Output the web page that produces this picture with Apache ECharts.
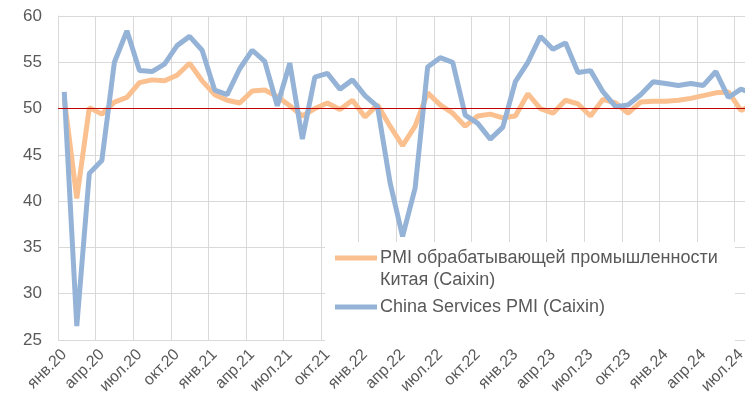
<!DOCTYPE html>
<html>
<head>
<meta charset="utf-8">
<title>PMI Китая (Caixin)</title>
<script src="https://cdn.jsdelivr.net/npm/echarts@6.0.0/dist/echarts.min.js"></script>
<style>
    html, body { margin: 0; padding: 0; background: #fff; }
    #chart { width: 745px; height: 405px; }
</style>
</head>
<body>
<div id="chart"></div>
<script>
    // подписи месяцев, янв.20 - авг.24
    const monthNames = ['янв', 'фев', 'мар', 'апр', 'май', 'июн', 'июл', 'авг', 'сен', 'окт', 'ноя', 'дек']
    const years = ['20', '21', '22', '23', '24']
    const lastYearMonths = 8
    const categories = []
    years.forEach((y, yi) => {
        const count = yi === years.length - 1 ? lastYearMonths : 12
        for (let m = 0; m < count; m++) categories.push(monthNames[m] + '.' + y)
    })

    const manufName = 'PMI обрабатывающей промышленности Китая (Caixin)'
    const servicesName = 'China Services PMI (Caixin)'

    const manufacturing = [
        51.1, 40.3, 50.1, 49.4, 50.7, 51.2, 52.8, 53.1, 53.0, 53.6, 54.9, 53.0,
        51.5, 50.9, 50.6, 51.9, 52.0, 51.3, 50.3, 49.2, 50.0, 50.6, 49.9, 50.9,
        49.1, 50.4, 48.1, 46.0, 48.1, 51.7, 50.4, 49.5, 48.1, 49.2, 49.4, 49.0,
        49.2, 51.6, 50.0, 49.5, 50.9, 50.5, 49.2, 51.0, 50.6, 49.5, 50.7, 50.8,
        50.8, 50.9, 51.1, 51.4, 51.7, 51.8, 49.8, 50.4
    ]
    const services = [
        51.8, 26.5, 43.0, 44.4, 55.0, 58.4, 54.1, 54.0, 54.8, 56.8, 57.8, 56.3,
        52.0, 51.5, 54.3, 56.3, 55.1, 50.3, 54.9, 46.7, 53.4, 53.8, 52.1, 53.1,
        51.4, 50.2, 42.0, 36.2, 41.4, 54.5, 55.5, 55.0, 49.3, 48.4, 46.7, 48.0,
        52.9, 55.0, 57.8, 56.4, 57.1, 53.9, 54.1, 51.8, 50.2, 50.4, 51.5, 52.9,
        52.7, 52.5, 52.7, 52.5, 54.0, 51.2, 52.1, 51.6
    ]
    const threshold = 50

    const orange = '#fac090'
    const blue = '#95b3d7'
    const gridColor = '#d9d9d9'
    const textColor = '#595959'
    const font = 'Liberation Sans, Arial, sans-serif'

    const chart = echarts.init(document.getElementById('chart'))
    chart.setOption({
        animation: false,
        textStyle: { fontFamily: font },
        // область построения шире окна: последний месяц уходит за правый край
        grid: { left: 58, width: 701.7, top: 16, bottom: 65, outerBoundsMode: 'none', containLabel: false },
        xAxis: {
            type: 'category',
            data: categories,
            boundaryGap: true,
            axisLine: { show: false },
            axisTick: { show: false, interval: 2 },
            splitLine: { show: true, interval: 2, lineStyle: { color: gridColor, width: 1 } },
            axisLabel: { interval: 2, rotate: 45, fontSize: 16, color: textColor, margin: 12 }
        },
        yAxis: {
            type: 'value',
            min: 25,
            max: 60,
            interval: 5,
            axisLine: { show: true, lineStyle: { color: gridColor } },
            axisTick: { show: false },
            splitLine: { lineStyle: { color: gridColor, width: 1 } },
            axisLabel: { fontSize: 17, color: textColor, margin: 16 }
        },
        series: [
            {
                name: manufName,
                type: 'line',
                data: manufacturing,
                symbol: 'none',
                lineStyle: { color: orange, width: 5 },
                itemStyle: { color: orange },
                markLine: {
                    silent: true,
                    symbol: 'none',
                    label: { show: false },
                    lineStyle: { color: '#c00000', width: 1, type: 'solid' },
                    data: [{ yAxis: threshold }]
                }
            },
            {
                name: servicesName,
                type: 'line',
                data: services,
                symbol: 'none',
                lineStyle: { color: blue, width: 5 },
                itemStyle: { color: blue }
            }
        ],
        // легенда в белой рамке поверх сетки
        graphic: [
            { type: 'rect', z: 10, shape: { x: 325, y: 242, width: 410, height: 100 }, style: { fill: '#fff' } },
            { type: 'line', z: 11, shape: { x1: 335, y1: 258, x2: 377, y2: 258 }, style: { stroke: orange, lineWidth: 5 } },
            { type: 'text', z: 11, style: { x: 380, y: 247, text: 'PMI обрабатывающей промышленности\nКитая (Caixin)', lineHeight: 22, verticalAlign: 'top', fill: textColor, fontSize: 18, fontFamily: font } },
            { type: 'line', z: 11, shape: { x1: 335, y1: 307, x2: 377, y2: 307 }, style: { stroke: blue, lineWidth: 5 } },
            { type: 'text', z: 11, style: { x: 380, y: 307, text: servicesName, verticalAlign: 'middle', fill: textColor, fontSize: 18, fontFamily: font } }
        ]
    })
</script>
</body>
</html>
